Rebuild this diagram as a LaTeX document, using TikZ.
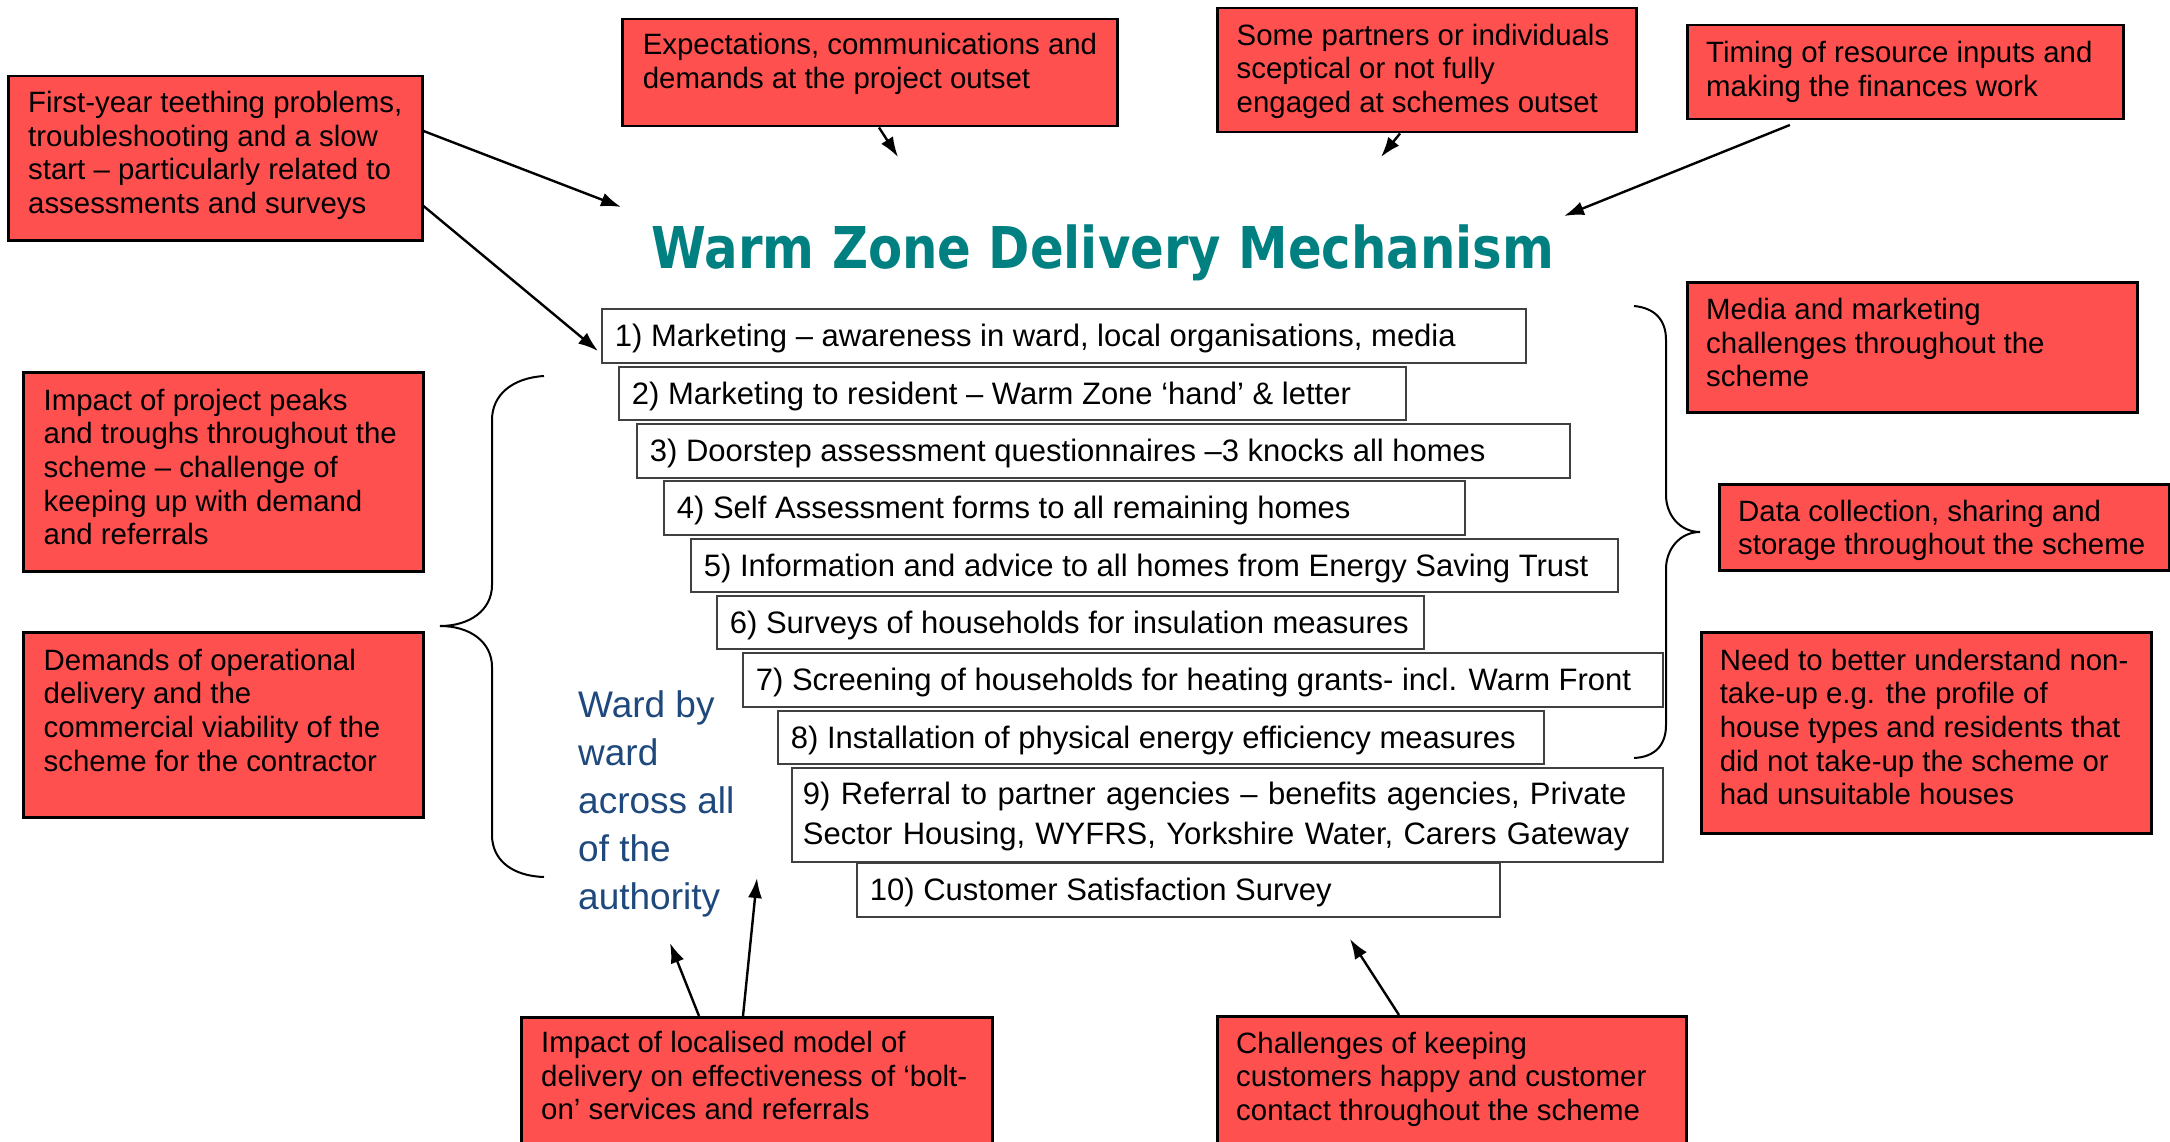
\documentclass[tikz,border=0pt]{standalone}
\usepackage{fontspec}
\setmainfont{Liberation Sans}
\newfontfamily\titlefont{DejaVu Sans}
\usetikzlibrary{arrows.meta,calc}
\definecolor{redfill}{RGB}{255,80,80}
\definecolor{titleteal}{RGB}{0,128,128}
\definecolor{wardblue}{RGB}{31,73,125}
\definecolor{boxline}{RGB}{64,64,64}
\newcommand{\steptext}[2]{\rule[-11pt]{0pt}{44pt}\makebox[#1][l]{#2}}
\tikzset{
  redbox/.style={draw=black, line width=2.5pt, fill=redfill, anchor=north west, inner sep=0pt},
  redtext/.style={anchor=north west, inner sep=0pt, align=left, font=\fontsize{29.4}{33.6}\selectfont},
  stepbox/.style={draw=boxline, line width=1.8pt, fill=white, anchor=north west, inner xsep=13pt, inner ysep=0pt, align=left, font=\fontsize{31}{40}\selectfont},
  arr/.style={line width=2.4pt, -{Latex[length=20pt,width=14pt]}},
  bracepath/.style={line width=2pt}
}
\begin{document}
\begin{tikzpicture}[x=1pt,y=-1pt]
\useasboundingbox (0,0) rectangle (2170,1142);
\clip (0,0) rectangle (2170,1142);
\fill[white] (0,0) rectangle (2170,1142);

% title
\node[anchor=base, inner sep=0pt, text=titleteal, font=\fontsize{57.6}{60}\selectfont\titlefont\bfseries] (title) at (1103,268) {\scalebox{0.864}[1]{Warm Zone Delivery Mechanism}};

% red boxes
\node[redbox, minimum width=414pt, minimum height=164pt] (fy) at (7,75) {};
\node[redtext] (fyt) at (28,88.8) {\strut First-year teething problems,\\troubleshooting and a slow\\start -- particularly related to\\assessments and surveys};

\node[redbox, minimum width=495pt, minimum height=107pt] (ex) at (621,18) {};
\node[redtext] (ext) at (642.6,30.8) {\strut Expectations, communications and\\demands at the project outset};

\node[redbox, minimum width=419pt, minimum height=124pt] (sp) at (1216,7) {};
\node[redtext] (spt) at (1236.5,21.5) {\strut Some partners or individuals\\sceptical or not fully\\engaged at schemes outset};

\node[redbox, minimum width=436pt, minimum height=94pt] (tm) at (1686,24) {};
\node[redtext] (tmt) at (1706,39.2) {\strut Timing of resource inputs and\\making the finances work};

\node[redbox, minimum width=450pt, minimum height=130pt] (md) at (1686,281) {};
\node[redtext] (mdt) at (1706,296) {\strut Media and marketing\\challenges throughout the\\scheme};

\node[redbox, minimum width=450pt, minimum height=86pt] (dc) at (1718,483) {};
\node[redtext] (dct) at (1738,497.5) {\strut Data collection, sharing and\\storage throughout the scheme};

\node[redbox, minimum width=450pt, minimum height=201pt] (nd) at (1700,631) {};
\node[redtext] (ndt) at (1719.6,646.5) {\strut Need to better understand non-\\take-up e.g. the profile of\\house types and residents that\\did not take-up the scheme or\\had unsuitable houses};

\node[redbox, minimum width=400pt, minimum height=199pt] (pk) at (22,371) {};
\node[redtext] (pkt) at (43.5,386.5) {\strut Impact of project peaks\\and troughs throughout the\\scheme -- challenge of\\keeping up with demand\\and referrals};

\node[redbox, minimum width=400pt, minimum height=185pt] (op) at (22,631) {};
\node[redtext] (opt) at (43.5,646.5) {\strut Demands of operational\\delivery and the\\commercial viability of the\\scheme for the contractor};

\node[redbox, minimum width=471pt, minimum height=150pt] (lo) at (520,1016) {};
\node[redtext] (lot) at (541,1029) {\strut Impact of localised model of\\delivery on effectiveness of ‘bolt-\\on’ services and referrals};

\node[redbox, minimum width=469pt, minimum height=150pt] (ch) at (1216,1015) {};
\node[redtext] (cht) at (1236,1029.5) {\strut Challenges of keeping\\customers happy and customer\\contact throughout the scheme};

% steps
\node[stepbox, minimum height=54pt] (s1) at (601,308) {\steptext{898pt}{1) Marketing -- awareness in ward, local organisations, media}};
\node[stepbox, minimum height=53pt] (s2) at (618,366) {\steptext{761pt}{2) Marketing to resident -- Warm Zone ‘hand’ \& letter}};
\node[stepbox, minimum height=54pt] (s3) at (636,423) {\steptext{907pt}{3) Doorstep assessment questionnaires --3 knocks all homes}};
\node[stepbox, minimum height=54pt] (s4) at (663,480) {\steptext{775pt}{4) Self Assessment forms to all remaining homes}};
\node[stepbox, minimum height=53pt] (s5) at (690,538) {\steptext{901pt}{5) Information and advice to all homes from Energy Saving Trust}};
\node[stepbox, minimum height=53pt] (s6) at (716,595) {\steptext{681pt}{6) Surveys of households for insulation measures}};
\node[stepbox, minimum height=54pt] (s7) at (742,652) {\steptext{894pt}{7) Screening of households for heating grants- incl. Warm Front}};
\node[stepbox, minimum height=53pt] (s8) at (777,710) {\steptext{740pt}{8) Installation of physical energy efficiency measures}};
\node[stepbox, text width=849pt, minimum height=94pt, inner xsep=11pt] (s9) at (791,767) {\rule{0pt}{26pt}9) Referral to partner agencies -- benefits agencies, Private\\Sector Housing, WYFRS, Yorkshire Water, Carers Gateway};
\node[stepbox, minimum height=54pt] (s10) at (856,862) {\steptext{617pt}{10) Customer Satisfaction Survey}};

% ward text
\node[anchor=north west, inner sep=0pt, align=left, text=wardblue, font=\fontsize{37}{48}\selectfont] (ward) at (578,683.4) {\strut Ward by\\ward\\across all\\of the\\authority};

% braces
\draw[bracepath] (544,376) .. controls (512,378) and (492,395) .. (492,420) -- (492,585)
  .. controls (492,610) and (470,626) .. (440,626)
  .. controls (470,626) and (492,642) .. (492,667) -- (492,835)
  .. controls (492,860) and (512,876) .. (544,877);
\draw[bracepath] (1634,306) .. controls (1655,308) and (1666,320) .. (1666,340) -- (1666,495)
  .. controls (1666,515) and (1680,532) .. (1700,532)
  .. controls (1680,532) and (1666,549) .. (1666,569) -- (1666,725)
  .. controls (1666,745) and (1655,757) .. (1634,758);

% arrow ends
\coordinate (e1) at (621,207);
\coordinate (e2) at (598,351);
\coordinate (e3) at (898,157);
\coordinate (e4) at (1381,157);
\coordinate (e5) at (1564,216);
\coordinate (e6) at (670,943);
\coordinate (e7) at (757,878);
\coordinate (e8) at (1350,939);

\draw[arr] (fy.east |- 0,131) -- (e1);
\draw[arr] (fy.east |- 0,206) -- (e2);
\draw[arr] (879,0 |- ex.south) -- (e3);
\draw[arr] (1400,0 |- sp.south) -- (e4);
\draw[arr, shorten <=12pt] (1801,0 |- tm.south) -- (e5);
\draw[arr] (699,0 |- lo.north) -- (e6);
\draw[arr] (743,0 |- lo.north) -- (e7);
\draw[arr] (1399,0 |- ch.north) -- (e8);
\end{tikzpicture}
\end{document}
